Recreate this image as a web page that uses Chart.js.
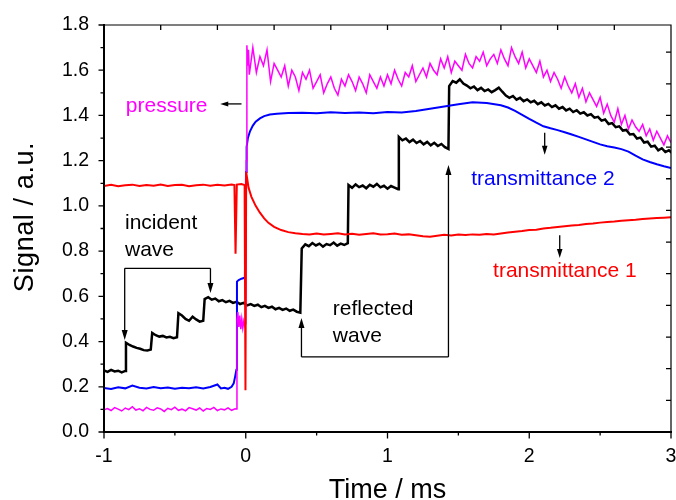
<!DOCTYPE html>
<html>
<head>
<meta charset="utf-8">
<title>Signal traces</title>
<script src="https://cdn.jsdelivr.net/npm/chart.js@4.4.0/dist/chart.umd.min.js"></script>
<style>
  html, body { margin: 0; padding: 0; background: #fff; }
  #wrap { width: 676px; height: 500px; }
</style>
</head>
<body>
<div id="wrap"><canvas id="chart" width="676" height="500"></canvas></div>
<script>
/* Shock tube signals: pressure, two transmittances, incident/reflected wave */

const FONT = '"Liberation Sans", Arial, sans-serif';
const DT = 0.025; // scope sample step, ms

// --- axis ticks ---
const xTicks = [-1, 0, 1, 2, 3];
const xMinor = [-0.5, 0.5, 1.5, 2.5];
const xTopTicks = [-0.6, -0.2, 0.2, 0.6, 1.0, 1.4, 1.8, 2.2, 2.6];
const yTicks = [0, 0.2, 0.4, 0.6, 0.8, 1.0, 1.2, 1.4, 1.6, 1.8];
const yMinor = [0.1, 0.3, 0.5, 0.7, 0.9, 1.1, 1.3, 1.5, 1.7];
const yRightTicks = [0.14, 0.28, 0.42, 0.56, 0.70, 0.84, 0.98, 1.12, 1.26, 1.40, 1.54, 1.68];

// --- pressure (magenta) ---
const pressureBefore = [ // from -1.000 ms
  0.098, 0.104, 0.095, 0.108, 0.101, 0.093, 0.106, 0.099, 0.112, 0.097,
  0.103, 0.094, 0.109, 0.100, 0.096, 0.107, 0.102, 0.091, 0.105, 0.099,
  0.110, 0.096, 0.101, 0.094, 0.108, 0.103, 0.097, 0.106, 0.093, 0.104,
  0.100, 0.109, 0.095, 0.102, 0.098, 0.107, 0.096, 0.103
];
const pressureJump = [
  [-0.066, 0.102], [-0.062, 0.500], [-0.056, 0.530], [-0.049, 0.465], [-0.042, 0.515],
  [-0.035, 0.455], [-0.028, 0.500], [-0.021, 0.460], [-0.014, 0.490], [-0.007, 0.470],
  [0.000, 0.480], [0.004, 1.200], [0.008, 1.710], [0.014, 1.620], [0.019, 1.690]
];
const pressureAfter = [ // from 0.025 ms
  1.58, 1.70, 1.59, 1.66, 1.62, 1.69, 1.55, 1.63, 1.60, 1.57,
  1.62, 1.53, 1.60, 1.57, 1.51, 1.59, 1.56, 1.60, 1.52, 1.55,
  1.58, 1.50, 1.54, 1.57, 1.52, 1.49, 1.56, 1.53, 1.58, 1.55,
  1.51, 1.57, 1.54, 1.50, 1.58, 1.55, 1.52, 1.57, 1.53, 1.58,
  1.54, 1.60, 1.56, 1.53, 1.59, 1.57, 1.62, 1.55, 1.58, 1.61,
  1.57, 1.63, 1.60, 1.58, 1.65, 1.61, 1.66, 1.59, 1.64, 1.62,
  1.60, 1.67, 1.63, 1.61, 1.66, 1.64, 1.68, 1.62, 1.65, 1.67,
  1.63, 1.69, 1.65, 1.62, 1.70, 1.66, 1.63, 1.68, 1.61, 1.65,
  1.62, 1.59, 1.64, 1.57, 1.60, 1.55, 1.59, 1.56, 1.52, 1.57,
  1.53, 1.50, 1.54, 1.48, 1.52, 1.46, 1.50, 1.47, 1.44, 1.48,
  1.41, 1.45, 1.40, 1.37, 1.43, 1.36, 1.40, 1.34, 1.38, 1.35,
  1.33, 1.36, 1.31, 1.34, 1.29, 1.33, 1.30, 1.27, 1.31, 1.28
];

// --- transmittance 1 (red) [ms, signal] ---
const trans1 = [
  [-1.00, 1.088], [-0.95, 1.093], [-0.90, 1.087], [-0.85, 1.091], [-0.80, 1.094],
  [-0.75, 1.088], [-0.70, 1.092], [-0.65, 1.089], [-0.60, 1.095], [-0.55, 1.088],
  [-0.50, 1.092], [-0.45, 1.093], [-0.40, 1.087], [-0.35, 1.091], [-0.30, 1.094],
  [-0.25, 1.089], [-0.20, 1.093], [-0.15, 1.090], [-0.10, 1.095], [-0.08, 1.092],
  [-0.072, 0.788], [-0.063, 1.094], [-0.03, 1.097], [-0.008, 1.092], [-0.002, 0.185],
  [0.003, 1.150], [0.02, 1.080], [0.04, 1.040], [0.07, 1.000], [0.10, 0.970],
  [0.13, 0.945], [0.16, 0.925], [0.20, 0.907], [0.25, 0.893], [0.30, 0.884],
  [0.35, 0.879], [0.40, 0.876], [0.45, 0.874], [0.50, 0.878], [0.55, 0.873],
  [0.60, 0.876], [0.65, 0.879], [0.70, 0.874], [0.75, 0.877], [0.80, 0.872],
  [0.85, 0.876], [0.90, 0.879], [0.95, 0.873], [1.00, 0.875], [1.05, 0.878],
  [1.10, 0.872], [1.15, 0.874], [1.20, 0.870], [1.25, 0.866], [1.30, 0.864],
  [1.35, 0.868], [1.40, 0.872], [1.45, 0.869], [1.50, 0.873], [1.55, 0.871],
  [1.60, 0.874], [1.65, 0.872], [1.70, 0.876], [1.75, 0.874], [1.80, 0.878],
  [1.85, 0.882], [1.90, 0.886], [1.95, 0.889], [2.00, 0.893], [2.05, 0.895],
  [2.10, 0.900], [2.15, 0.903], [2.20, 0.907], [2.25, 0.910], [2.30, 0.913],
  [2.35, 0.916], [2.40, 0.920], [2.45, 0.922], [2.50, 0.926], [2.55, 0.929],
  [2.60, 0.931], [2.65, 0.934], [2.70, 0.937], [2.75, 0.939], [2.80, 0.942],
  [2.85, 0.944], [2.90, 0.946], [2.95, 0.948], [3.00, 0.950]
];

// --- transmittance 2 (blue) [ms, signal] ---
const trans2 = [
  [-1.00, 0.195], [-0.95, 0.190], [-0.90, 0.198], [-0.85, 0.193], [-0.80, 0.205],
  [-0.75, 0.196], [-0.70, 0.192], [-0.65, 0.199], [-0.60, 0.194], [-0.55, 0.197],
  [-0.50, 0.191], [-0.45, 0.196], [-0.40, 0.193], [-0.35, 0.198], [-0.30, 0.192],
  [-0.25, 0.199], [-0.20, 0.210], [-0.175, 0.193], [-0.15, 0.196], [-0.125, 0.191],
  [-0.10, 0.200], [-0.085, 0.215], [-0.075, 0.245], [-0.066, 0.275], [-0.062, 0.665],
  [-0.05, 0.672], [-0.03, 0.678], [-0.015, 0.681], [-0.006, 0.680], [0.002, 1.150],
  [0.006, 1.260], [0.015, 1.300], [0.03, 1.330], [0.05, 1.355], [0.07, 1.372],
  [0.10, 1.387], [0.13, 1.397], [0.17, 1.404], [0.22, 1.408], [0.30, 1.411],
  [0.40, 1.412], [0.50, 1.410], [0.60, 1.414], [0.70, 1.411], [0.80, 1.413],
  [0.90, 1.410], [1.00, 1.415], [1.10, 1.413], [1.20, 1.420], [1.30, 1.430],
  [1.40, 1.440], [1.50, 1.450], [1.60, 1.458], [1.70, 1.455], [1.80, 1.445],
  [1.85, 1.435], [1.90, 1.420], [1.95, 1.403], [2.00, 1.385], [2.05, 1.368],
  [2.10, 1.352], [2.15, 1.343], [2.20, 1.335], [2.25, 1.326], [2.30, 1.316],
  [2.35, 1.305], [2.40, 1.294], [2.45, 1.283], [2.50, 1.272], [2.55, 1.264],
  [2.60, 1.258], [2.65, 1.251], [2.70, 1.240], [2.75, 1.222], [2.80, 1.206],
  [2.85, 1.194], [2.90, 1.184], [2.95, 1.175], [3.00, 1.168]
];

// --- incident / reflected wave (black): plateau start times and samples ---
const waveStarts = [-1.0, -0.845, -0.66, -0.475, -0.29, 0.395, 0.725, 1.08, 1.435];
const wavePlateaus = [
  [0.272, 0.266, 0.275, 0.268, 0.271, 0.264, 0.270],
  [0.395, 0.385, 0.378, 0.372, 0.368, 0.362, 0.360, 0.365],
  [0.438, 0.428, 0.422, 0.425, 0.418, 0.421, 0.415, 0.419],
  [0.525, 0.515, 0.500, 0.492, 0.510, 0.498, 0.488, 0.492],
  [0.588, 0.596, 0.585, 0.590, 0.578, 0.583, 0.574, 0.580, 0.571, 0.576,
   0.566, 0.571, 0.560, 0.566, 0.558, 0.563, 0.552, 0.558, 0.549, 0.554,
   0.543, 0.549, 0.540, 0.546, 0.536, 0.541, 0.532, 0.528],
  [0.812, 0.830, 0.822, 0.836, 0.825, 0.833, 0.820, 0.831, 0.826, 0.838,
   0.824, 0.833, 0.827, 0.835],
  [1.092, 1.080, 1.095, 1.083, 1.090, 1.078, 1.093, 1.085, 1.097, 1.082,
   1.089, 1.076, 1.088, 1.081, 1.074],
  [1.305, 1.290, 1.298, 1.282, 1.293, 1.278, 1.287, 1.272, 1.283, 1.268,
   1.279, 1.265, 1.274, 1.260, 1.252],
  [1.530, 1.552, 1.545, 1.560, 1.541, 1.532, 1.520, 1.528, 1.512, 1.522,
   1.508, 1.515, 1.503, 1.512, 1.523, 1.505, 1.488, 1.478, 1.486, 1.470,
   1.478, 1.463, 1.471, 1.458, 1.465, 1.450, 1.458, 1.444, 1.451, 1.437,
   1.445, 1.430, 1.437, 1.422, 1.430, 1.415, 1.423, 1.408, 1.414, 1.400,
   1.406, 1.390, 1.394, 1.377, 1.382, 1.362, 1.366, 1.348, 1.352, 1.333,
   1.336, 1.316, 1.318, 1.298, 1.302, 1.280, 1.284, 1.262, 1.266, 1.246,
   1.255, 1.238, 1.246, 1.232]
];

// --- helpers ---
function sampled(t0, vals) {
  return vals.map((v, i) => ({ x: +(t0 + i * DT).toFixed(4), y: v }));
}
function pairs(list) {
  return list.map(p => ({ x: p[0], y: p[1] }));
}

const pressureData = [].concat(
  sampled(-1.0, pressureBefore),
  pairs(pressureJump),
  sampled(0.025, pressureAfter)
);
const waveData = [].concat(...wavePlateaus.map((vals, k) => sampled(waveStarts[k], vals)));

function trace(label, data, color, width, order) {
  return {
    label, data, order,
    borderColor: color,
    backgroundColor: color,
    borderWidth: width,
    pointRadius: 0,
    tension: 0,
    fill: false
  };
}

// --- frame, ticks, titles and labels ---
function drawArrow(ctx, x1, y1, x2, y2, len, half) {
  const a = Math.atan2(y2 - y1, x2 - x1);
  const c = Math.cos(a), s = Math.sin(a);
  ctx.beginPath();
  ctx.moveTo(x1, y1);
  ctx.lineTo(x2 - c * len * 0.7, y2 - s * len * 0.7);
  ctx.stroke();
  ctx.beginPath();
  ctx.moveTo(x2, y2);
  ctx.lineTo(x2 - c * len + s * half, y2 - s * len - c * half);
  ctx.lineTo(x2 - c * len - s * half, y2 - s * len + c * half);
  ctx.closePath();
  ctx.fill();
}

const decor = {
  id: 'decor',
  afterDatasetsDraw(chart) {
    const { ctx, chartArea: a } = chart;
    const xs = chart.scales.x, ys = chart.scales.y;
    const px = v => xs.getPixelForValue(v);
    const py = v => ys.getPixelForValue(v);

    ctx.save();
    ctx.strokeStyle = '#000';
    ctx.fillStyle = '#000';
    ctx.lineCap = 'butt';

    // top and right frame
    ctx.lineWidth = 1.2;
    ctx.beginPath();
    ctx.moveTo(a.left, a.top); ctx.lineTo(a.right, a.top); ctx.lineTo(a.right, a.bottom);
    ctx.stroke();

    // left and bottom axes
    ctx.lineWidth = 2;
    ctx.beginPath();
    ctx.moveTo(a.left, a.top - 1); ctx.lineTo(a.left, a.bottom); ctx.lineTo(a.right + 1, a.bottom);
    ctx.stroke();

    ctx.lineWidth = 1.3;
    ctx.beginPath();
    xTicks.forEach(t => { const x = px(t); ctx.moveTo(x, a.bottom); ctx.lineTo(x, a.bottom + 6.5); });
    xMinor.forEach(t => { const x = px(t); ctx.moveTo(x, a.bottom); ctx.lineTo(x, a.bottom + 3.5); });
    yTicks.forEach(v => { const y = py(v); ctx.moveTo(a.left, y); ctx.lineTo(a.left - 5.5, y); });
    yMinor.forEach(v => { const y = py(v); ctx.moveTo(a.left, y); ctx.lineTo(a.left - 3.5, y); });
    xTopTicks.forEach(t => { const x = px(t); ctx.moveTo(x, a.top); ctx.lineTo(x, a.top + 5); });
    yRightTicks.forEach(v => { const y = py(v); ctx.moveTo(a.right, y); ctx.lineTo(a.right - 5, y); });
    ctx.stroke();

    // axis titles
    ctx.font = '27px ' + FONT;
    ctx.textAlign = 'center';
    ctx.textBaseline = 'alphabetic';
    ctx.fillText('Time / ms', (a.left + a.right) / 2, 498);
    ctx.save();
    ctx.translate(33, 217);
    ctx.rotate(-Math.PI / 2);
    ctx.letterSpacing = '0.6px';
    ctx.fillText('Signal / a.u.', 0, 0);
    ctx.restore();

    // trace labels
    ctx.font = '21px ' + FONT;
    ctx.textAlign = 'left';
    ctx.fillStyle = '#ff00ff';
    ctx.fillText('pressure', px(-0.846), py(1.416));
    ctx.fillStyle = '#000';
    ctx.fillText('incident', px(-0.852), py(0.898));
    ctx.fillText('wave', px(-0.852), py(0.779));
    ctx.fillText('reflected', px(0.614), py(0.518));
    ctx.fillText('wave', px(0.614), py(0.398));
    ctx.fillStyle = '#0000ff';
    ctx.fillText('transmittance 2', px(1.59), py(1.093));
    ctx.fillStyle = '#ff0000';
    ctx.fillText('transmittance 1', px(1.745), py(0.687));

    // pointers
    ctx.fillStyle = '#000';
    ctx.strokeStyle = '#000';
    ctx.lineWidth = 1.3;
    drawArrow(ctx, px(-0.03), py(1.451), px(-0.18), py(1.451), 8, 2.5);
    drawArrow(ctx, px(2.109), py(1.323), px(2.109), py(1.226), 9, 2.8);
    drawArrow(ctx, px(2.215), py(0.870), px(2.215), py(0.769), 9, 2.8);

    ctx.beginPath();
    ctx.moveTo(px(-0.854), py(0.724)); ctx.lineTo(px(-0.249), py(0.724));
    ctx.moveTo(px(0.393), py(0.332)); ctx.lineTo(px(1.430), py(0.332));
    ctx.stroke();
    drawArrow(ctx, px(-0.854), py(0.724), px(-0.854), py(0.407), 10, 3);
    drawArrow(ctx, px(-0.249), py(0.724), px(-0.249), py(0.615), 10, 3);
    drawArrow(ctx, px(0.393), py(0.332), px(0.393), py(0.504), 10, 3);
    drawArrow(ctx, px(1.430), py(0.332), px(1.430), py(1.181), 10, 3);

    ctx.restore();
  }
};

new Chart(document.getElementById('chart'), {
  type: 'line',
  data: {
    datasets: [
      trace('transmittance 1', pairs(trans1), '#ff0000', 2, 1),
      trace('pressure', pressureData, '#ff00ff', 1.5, 2),
      trace('transmittance 2', pairs(trans2), '#0000ff', 2, 3),
      trace('wave', waveData, '#000000', 2.5, 4)
    ]
  },
  options: {
    responsive: false,
    animation: false,
    events: [],
    layout: { padding: { top: 25, right: 5, left: 0, bottom: 0 } },
    plugins: { legend: { display: false }, tooltip: { enabled: false } },
    scales: {
      x: {
        type: 'linear',
        min: -1, max: 3,
        afterFit: s => { s.height = 68; s.paddingLeft = 0; s.paddingRight = 0; },
        afterBuildTicks: s => { s.ticks = xTicks.map(v => ({ value: v })); },
        ticks: {
          font: { family: FONT, size: 19.5 },
          color: '#000',
          padding: 13,
          maxRotation: 0,
          callback: v => String(v)
        },
        grid: { display: false, drawTicks: false },
        border: { display: false }
      },
      y: {
        min: 0, max: 1.8,
        afterFit: s => { s.width = 104; s.paddingTop = 0; s.paddingBottom = 0; },
        afterBuildTicks: s => { s.ticks = yTicks.map(v => ({ value: v })); },
        ticks: {
          font: { family: FONT, size: 19.5 },
          color: '#000',
          padding: 15,
          callback: v => v.toFixed(1)
        },
        grid: { display: false, drawTicks: false },
        border: { display: false }
      }
    }
  },
  plugins: [decor]
});
</script>
</body>
</html>
